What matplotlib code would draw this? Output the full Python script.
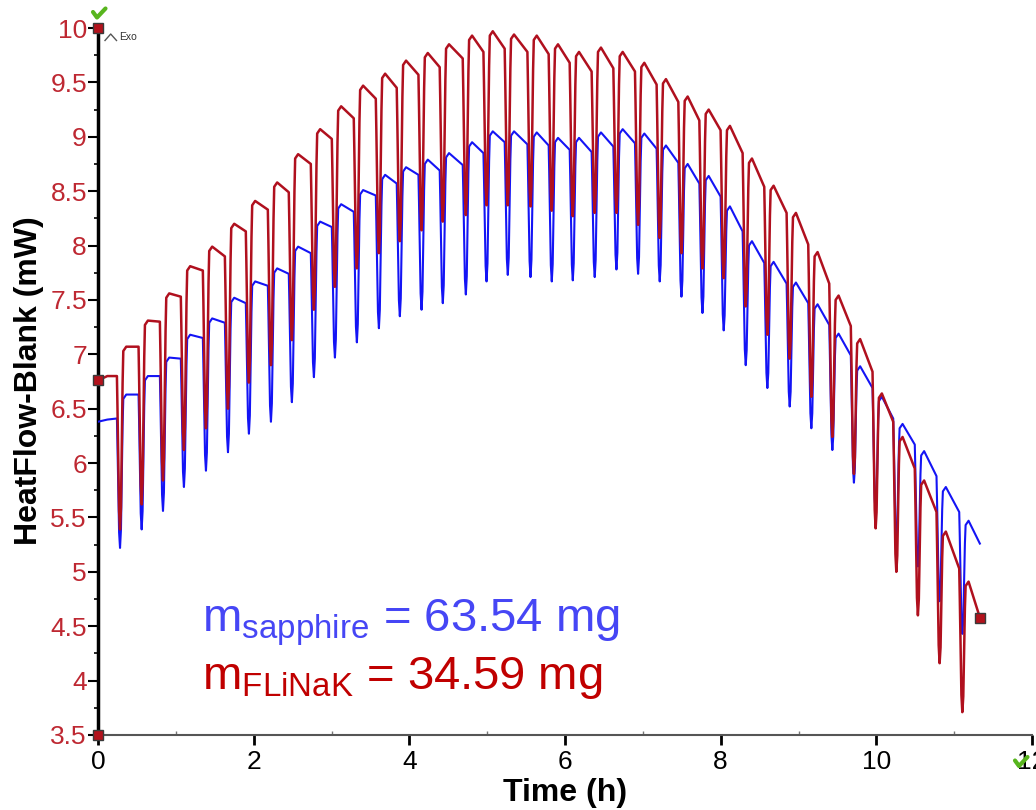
import numpy as np
import matplotlib
matplotlib.use('Agg')
import matplotlib.pyplot as plt
from matplotlib.ticker import MultipleLocator, FuncFormatter
from matplotlib.lines import Line2D

plt.rcParams['font.family'] = ['Liberation Sans', 'DejaVu Sans']
plt.rcParams['mathtext.fontset'] = 'custom'
plt.rcParams['mathtext.rm'] = 'Liberation Sans'
plt.rcParams['mathtext.it'] = 'Liberation Sans'

# ---------------- data ----------------
# times (h) of the 40 dips
dip_times = [0.283, 0.561, 0.835, 1.104, 1.387, 1.670, 1.939, 2.222, 2.491, 2.774,
             3.044, 3.326, 3.609, 3.878, 4.157, 4.430, 4.726, 4.992, 5.265, 5.557,
             5.830, 6.100, 6.382, 6.661, 6.939, 7.217, 7.496, 7.766, 8.039, 8.322,
             8.600, 8.887, 9.165, 9.435, 9.712, 9.991, 10.257, 10.534, 10.813, 11.105]
t_end = 11.33

# FLiNaK (red) heat flow, mW
red_start = 6.76
red_peak = [6.80, 7.07, 7.31, 7.56, 7.81, 7.99, 8.20, 8.41, 8.58, 8.84,
            9.07, 9.28, 9.47, 9.58, 9.70, 9.77, 9.85, 9.93, 9.97, 9.94,
            9.93, 9.85, 9.78, 9.82, 9.78, 9.68, 9.53, 9.37, 9.25, 9.10,
            8.80, 8.55, 8.30, 7.94, 7.54, 7.14, 6.64, 6.24, 5.84, 5.37, 4.91]
red_end = [6.80, 7.07, 7.30, 7.53, 7.77, 7.90, 8.13, 8.33, 8.49, 8.75,
           8.98, 9.17, 9.35, 9.45, 9.57, 9.64, 9.72, 9.78, 9.81, 9.78,
           9.76, 9.68, 9.60, 9.63, 9.60, 9.48, 9.32, 9.15, 9.06, 8.85,
           8.54, 8.30, 8.01, 7.65, 7.26, 6.84, 6.38, 5.95, 5.55, 5.03, 4.58]
red_dip = [5.39, 5.62, 5.84, 6.12, 6.32, 6.50, 6.74, 6.90, 7.13, 7.41,
           7.62, 7.79, 7.93, 8.04, 8.14, 8.22, 8.28, 8.37, 8.37, 8.36,
           8.32, 8.27, 8.30, 8.30, 8.19, 8.07, 7.93, 7.79, 7.70, 7.44,
           7.18, 6.96, 6.61, 6.24, 5.90, 5.40, 5.00, 4.60, 4.16, 3.71]

# sapphire (blue) heat flow, mW
blue_start = 6.38
blue_peak = [6.40, 6.63, 6.80, 6.97, 7.18, 7.33, 7.52, 7.67, 7.79, 7.99,
             8.22, 8.38, 8.51, 8.65, 8.72, 8.79, 8.85, 8.95, 9.05, 9.05,
             9.04, 8.99, 8.99, 9.04, 9.07, 9.03, 8.92, 8.75, 8.64, 8.36,
             8.04, 7.85, 7.66, 7.46, 7.19, 6.89, 6.61, 6.36, 6.11, 5.78, 5.47]
blue_end = [6.41, 6.63, 6.80, 6.96, 7.15, 7.29, 7.47, 7.63, 7.74, 7.93,
            8.17, 8.31, 8.46, 8.57, 8.65, 8.69, 8.74, 8.85, 8.95, 8.93,
            8.92, 8.88, 8.86, 8.91, 8.94, 8.89, 8.76, 8.57, 8.45, 8.13,
            7.84, 7.65, 7.47, 7.27, 6.99, 6.69, 6.41, 6.17, 5.88, 5.55, 5.26]
blue_dip = [5.22, 5.39, 5.56, 5.78, 5.93, 6.10, 6.27, 6.38, 6.56, 6.79,
            6.97, 7.11, 7.24, 7.35, 7.41, 7.47, 7.55, 7.67, 7.73, 7.71,
            7.67, 7.68, 7.71, 7.78, 7.74, 7.67, 7.53, 7.38, 7.22, 6.90,
            6.69, 6.52, 6.32, 6.12, 5.82, 5.54, 5.27, 5.05, 4.73, 4.43]

x_ticks = [0, 2, 4, 6, 8, 10, 12]
label_sapphire = r'$\mathregular{m_{sapphire}}$ = 63.54 mg'
label_flinak = r'$\mathregular{m_{FLiNaK}}$ = 34.59 mg'

RED = '#B0101E'
BLUE = '#1414F5'


def build(start, peaks, ends, dips):
    t = [0.0, 0.12]
    y = [start, peaks[0]]
    for k, td in enumerate(dip_times):
        e, d, p = ends[k], dips[k], peaks[k + 1]
        t += [td - 0.04, td - 0.033, td - 0.012, td, td + 0.012, td + 0.033, td + 0.042, td + 0.08]
        y += [e, e - 0.2 * (e - d), d + 0.12 * (e - d), d, d + 0.12 * (p - d), p - 0.2 * (p - d),
              p - 0.04, p]
    t.append(t_end)
    y.append(ends[-1])
    return np.array(t), np.array(y)


tb, yb = build(blue_start, blue_peak, blue_end, blue_dip)
tr, yr = build(red_start, red_peak, red_end, red_dip)

W, H = 1036, 810
fig = plt.figure(figsize=(W / 100, H / 100), dpi=100)
ax = fig.add_axes([98 / W, 1 - 735 / H, (1032 - 98) / W, (735 - 28) / H])
ax.set_xlim(0, 12)
ax.set_ylim(3.5, 10)

ax.plot(tb, yb, color=BLUE, lw=1.5, zorder=3, solid_joinstyle='round')
ax.plot(tr, yr, color=RED, lw=1.8, zorder=4, solid_joinstyle='round')

# end markers of the red curve and axis-limit markers
sq = dict(marker='s', ms=7, mfc='#B3121C', mec='#3a3a3a', mew=1.0, clip_on=False, zorder=8, ls='none')
ax.plot([0, t_end], [red_start, red_end[-1]], **sq)
ax.plot([0, 0], [10, 3.5], **sq)

for s in ['top', 'right']:
    ax.spines[s].set_visible(False)
ax.spines['left'].set_color('black')
ax.spines['left'].set_linewidth(2.5)
ax.spines['bottom'].set_color('#555555')
ax.spines['bottom'].set_linewidth(1.5)

ax.yaxis.set_major_locator(MultipleLocator(0.5))
ax.yaxis.set_minor_locator(MultipleLocator(0.25))
ax.yaxis.set_major_formatter(FuncFormatter(lambda v, p: f'{v:g}'))
ax.tick_params(axis='y', which='major', direction='out', length=7, width=1.5,
               color='black', labelsize=19, labelcolor='#BE2832', pad=1)
ax.tick_params(axis='y', which='minor', direction='out', length=3, width=1.2, color='black')

ax.set_xticks(x_ticks)
ax.xaxis.set_minor_locator(MultipleLocator(1))
ax.tick_params(axis='x', which='major', direction='out', length=7, width=2,
               color='black', labelsize=19, labelcolor='black', pad=4)
ax.tick_params(axis='x', which='minor', direction='in', length=3, width=1, color='#777777')

fig.text(29 / W, 1 - 381 / H, 'HeatFlow-Blank (mW)', rotation=90, ha='center', va='center',
         fontsize=23, fontweight='bold', color='black')
fig.text(565 / W, 1 - 793 / H, 'Time (h)', ha='center', va='center',
         fontsize=23, fontweight='bold', color='black')

fig.text(202 / W, 1 - 632 / H, label_sapphire, ha='left', va='baseline',
         fontsize=34, color='#4646F5')
fig.text(202 / W, 1 - 689 / H, label_flinak, ha='left', va='baseline',
         fontsize=34, color='#C00000')

# "Exo" indicator
fig.add_artist(Line2D([105 / W, 110.7 / W, 116.5 / W], [1 - 40.5 / H, 1 - 34 / H, 1 - 40.5 / H],
                      color='#555555', lw=1.0))
fig.text(119 / W, 1 - 39.5 / H, 'Exo', ha='left', va='baseline', fontsize=7.5, color='#333333')

# green check marks
GREEN = '#58B51E'
for (x0, y0) in [(93, 12), (1015, 760.5)]:
    fig.add_artist(Line2D([x0 / W, (x0 + 4) / W, (x0 + 12.5) / W],
                          [1 - y0 / H, 1 - (y0 + 5.5) / H, 1 - (y0 - 3.5) / H],
                          color=GREEN, lw=3.0, solid_capstyle='round', zorder=10))

fig.savefig('out.png', dpi=100)
